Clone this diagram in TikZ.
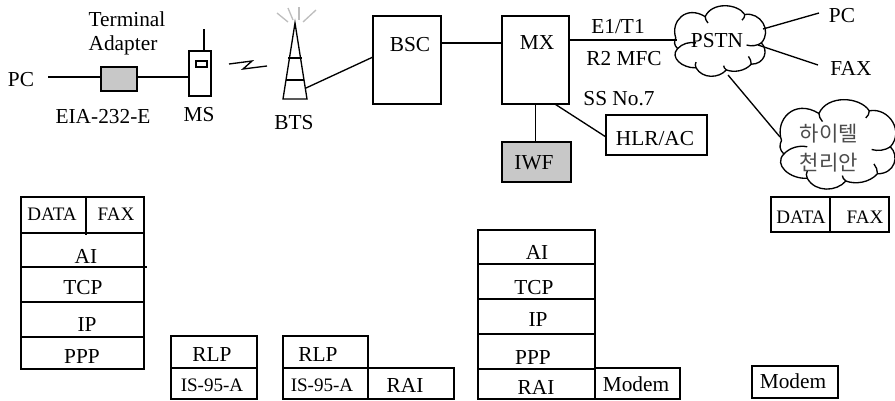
\documentclass[tikz,border=0pt]{standalone}
\usepackage{fontspec}
\setmainfont{Liberation Serif}
\newfontfamily\krfont{Noto Sans CJK KR}
\usetikzlibrary{positioning, calc}
\definecolor{shade}{HTML}{C8C8C8}
\definecolor{rays}{HTML}{BEBEBE}

\begin{document}
\begin{tikzpicture}[
  x=0.75pt, y=-0.75pt, line width=1pt,
  lbl/.style={inner sep=0pt, font=\fontsize{16}{18}\selectfont},
  sml/.style={inner sep=0pt, font=\fontsize{14.3}{16}\selectfont},
  kor/.style={inner sep=0pt, text=black!70, font=\krfont\fontsize{15.8}{18}\selectfont},
  cell/.style={draw, inner sep=0pt, outer sep=0pt, minimum width=#1*0.75pt},
  tall/.style={minimum height=#1*0.75pt},
  grey/.style={fill=shade},
  puff/.pic={
    \draw (3,45) .. controls (-3,22) and (14,-2) .. (35,15)
      .. controls (42,-6) and (70,-4) .. (78,12)
      .. controls (95,8) and (108,35) .. (96,52)
      .. controls (104,62) and (100,82) .. (85,82)
      .. controls (78,92) and (66,94) .. (58,90)
      .. controls (50,102) and (32,103) .. (25,87)
      .. controls (10,88) and (-4,72) .. (5,60)
      .. controls (1,55) and (1,50) .. (3,45);
    \draw (35,15) .. controls (35,18) and (36,21) .. (38,24);
    \draw (78,12) .. controls (78,15) and (77,18) .. (75,20);
    \draw (96,52) .. controls (92,56) and (85,57) .. (80,55);
    \draw (85,82) .. controls (85,78) and (84,74) .. (82,71);
    \draw (58,90) .. controls (56,88) and (55,86) .. (55,84);
    \draw (25,87) .. controls (24,84) and (24,82) .. (25,79);
    \draw (5,60) .. controls (10,53) and (18,50) .. (25,52);
  }
]
\useasboundingbox (0,0) rectangle (895,400);

  % terminal side
  \node[lbl] (pc) at (21,80) {PC};
  \coordinate (pcend) at (48,77);
  \node[cell=36, tall=24, grey] (ta) at (119,79) {};
  \node[cell=22, tall=45] (ms) at (200,73.5) {};
  \node[cell=11, tall=6, line width=0.8pt] (screen) at (201.5,64) {};
  \coordinate (antenna) at (204,29);
  \node[lbl] (term) at (127,19) {Terminal};
  \node[lbl] (adapt) at (123,45) {Adapter};
  \node[lbl] (eia) at (103,117) {EIA-232-E};
  \node[lbl] (msL) at (199,115) {MS};
  \draw (pcend) -- (pcend -| ta.west);
  \draw (ta.east |- pcend) -- (ms.west |- pcend);
  \draw (antenna) -- (antenna |- ms.north);
  \draw (229,64) -- (252,61) -- (243,69) -- (267,66);

  % tower
  \coordinate (apex) at (295,23);
  \coordinate (foot) at (306,88);
  \draw (283,99) -- (apex) -- (307,99) -- cycle;
  \draw (288,58) -- (302,58);
  \draw (286,80) -- (304,80);
  \foreach \rx/\ry/\sx/\sy in {277/13/288/22, 288/8/293/20, 299/7/299/20, 316/10/303/22}
    \draw[rays] (\rx,\ry) -- (\sx,\sy);
  \node[lbl] (bts) at (294,123) {BTS};

  % switching part
  \node[cell=68, tall=88] (bsc) at (407,60) {};
  \node[lbl] (bscL) at (410,45) {BSC};
  \node[cell=67, tall=88] (mx) at (535.5,60) {};
  \node[lbl] (mxL) at (537,43) {MX};
  \node[cell=69, tall=40, grey] (iwf) at (536.5,162) {};
  \node[lbl] (iwfL) at (534,163) {IWF};
  \node[cell=101, tall=40] (hlr) at (656.5,135) {};
  \node[lbl] (hlrL) at (655,139) {HLR/AC};
  \node[lbl] (e1) at (618,27) {E1/T1};
  \node[lbl] (r2) at (624,59) {R2 MFC};
  \node[lbl] (ss) at (619,99) {SS No.7};
  \draw (foot) -- ([yshift=2.25pt]bsc.west);
  \draw ([yshift=12.75pt]bsc.east) -- ([yshift=12.75pt]mx.west);
  \draw (mx.south) -- (mx.south |- iwf.north);
  \draw ([xshift=14.5pt]mx.south) -- ([yshift=-1.5pt]hlr.west);

  % networks
  \pic[shift={(673,6)}, xscale=0.92, yscale=0.71] {puff};
  \pic[shift={(778,100)}, xscale=1.17, yscale=0.9] {puff};
  \coordinate (pstnw) at (677,40);
  \coordinate (pstne) at (763,29);
  \coordinate (pstnr) at (758,45);
  \coordinate (pstnb) at (728,75);
  \coordinate (htelw) at (780,137);
  \node[lbl] (pstn) at (717,41) {PSTN};
  \node[lbl] (pcR) at (842,16) {PC};
  \node[lbl] (faxR) at (851,68) {FAX};
  \coordinate (pcend2) at (819,13);
  \coordinate (faxend) at (818,65);
  \node[kor] (htel) at (829,134) {하이텔};
  \node[kor] (chol) at (829,163) {천리안};
  \draw ([yshift=15pt]mx.east) -- (pstnw);
  \draw (pstne) -- (pcend2);
  \draw (pstnr) -- (faxend);
  \draw (pstnb) -- (htelw);
  \node[cell=59, tall=35] (dataR) at (800.5,214.5) {};
  \node[cell=59, tall=35] (faxbR) at (859.5,214.5) {};
  \node[sml] (dataRL) at (801,217) {DATA};
  \node[sml] (faxRL) at (865,217) {FAX};

  % left stack
  \node[cell=65, tall=36] (data) at (53.5,215) {};
  \node[cell=58, tall=36] (fax) at (115,215) {};
  \node[cell=123, tall=34] (ai) at (82.5,250) {};
  \node[cell=123, tall=35] (tcp) at (82.5,284.5) {};
  \node[cell=123, tall=35] (ip) at (82.5,319.5) {};
  \node[cell=123, tall=32] (ppp) at (82.5,353) {};
  \node[sml] (dataL) at (52,214) {DATA};
  \node[sml] (faxL) at (116,214) {FAX};
  \node[lbl] (aiL) at (86,256) {AI};
  \node[lbl] (tcpL) at (83,288) {TCP};
  \node[lbl] (ipL) at (87,325) {IP};
  \node[lbl] (pppL) at (82,357) {PPP};
  \coordinate (aiend) at (147,267);
  \draw (ai.south west) -- (aiend);
  \draw (data.south east) -- ([yshift=-1.5pt]data.south east);

  % radio stacks
  \node[cell=86, tall=32] (rlpa) at (214,352) {};
  \node[cell=86, tall=31] (isa) at (214,383.5) {};
  \node[lbl] (rlpaL) at (212,355) {RLP};
  \node[sml] (isaL) at (212,385) {IS-95-A};
  \node[cell=85, tall=32] (rlpb) at (325.5,352) {};
  \node[cell=85, tall=31] (isb) at (325.5,383.5) {};
  \node[cell=86, tall=31] (raib) at (411,383.5) {};
  \node[lbl] (rlpbL) at (318,355) {RLP};
  \node[sml] (isbL) at (322,385) {IS-95-A};
  \node[lbl] (raibL) at (405,385) {RAI};

  % middle stack
  \node[cell=117, tall=34] (aim) at (536.5,247) {};
  \node[cell=117, tall=35] (tcpm) at (536.5,281.5) {};
  \node[cell=117, tall=35] (ipm) at (536.5,316.5) {};
  \node[cell=117, tall=35] (pppm) at (536.5,351.5) {};
  \node[cell=117, tall=30] (raim) at (536.5,384) {};
  \node[cell=85, tall=31] (modm) at (637.5,383.5) {};
  \node[lbl] (aimL) at (537,252) {AI};
  \node[lbl] (tcpmL) at (534,288) {TCP};
  \node[lbl] (ipmL) at (538,320) {IP};
  \node[lbl] (pppmL) at (533,358) {PPP};
  \node[lbl] (raimL) at (536,387) {RAI};
  \node[lbl] (modmL) at (636,384) {Modem};

  \node[cell=86, tall=32] (modr) at (795,382) {};
  \node[lbl] (modrL) at (793,381) {Modem};

\end{tikzpicture}
\end{document}
